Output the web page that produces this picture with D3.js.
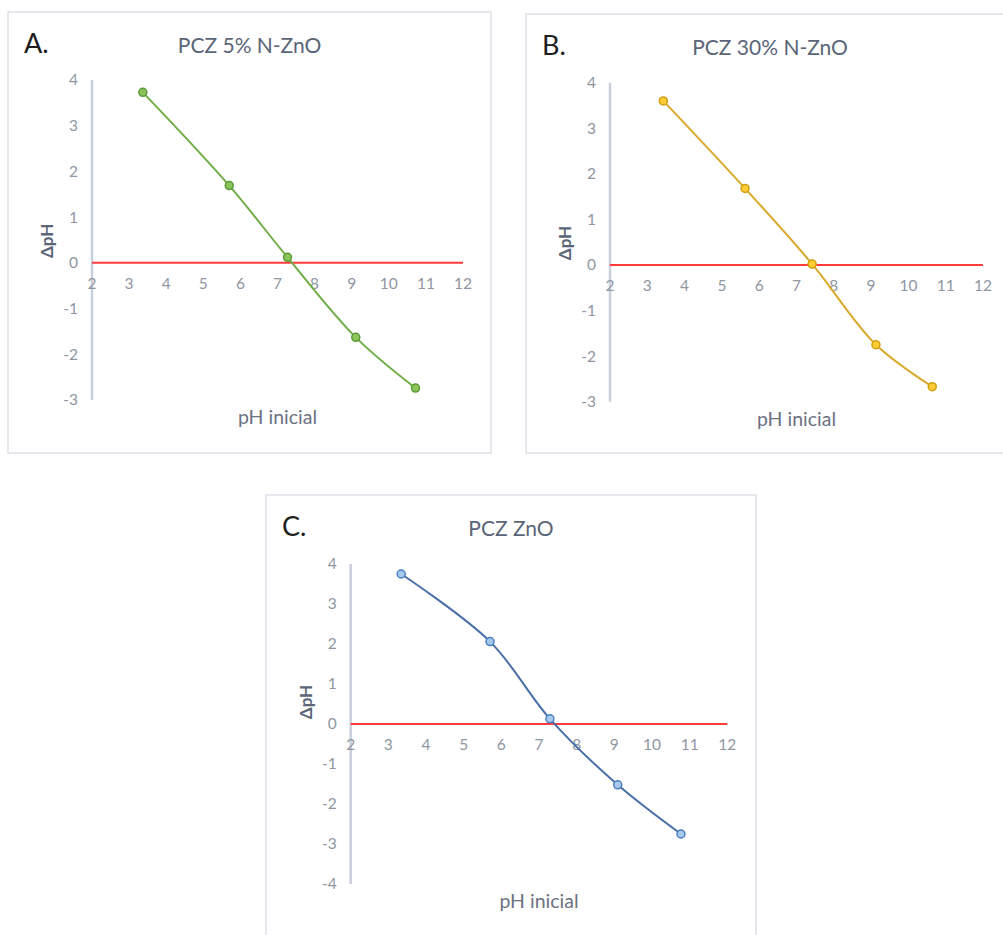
<!DOCTYPE html>
<html>
<head>
<meta charset="utf-8">
<script src="https://cdn.jsdelivr.net/npm/d3@7"></script>
<style>
  body { margin: 0; background: #fff; }
  svg { display: block; font-family: Lato, "Open Sans", sans-serif; }
</style>
</head>
<body>
<svg id="chart" width="1003" height="935"></svg>
<script>
// data
const ph_a = [3.37, 5.70, 7.27, 9.11, 10.72];
const dph_a = [3.73, 1.69, 0.12, -1.63, -2.74];

const ph_b = [3.43, 5.62, 7.42, 9.13, 10.64];
const dph_b = [3.60, 1.68, 0.02, -1.75, -2.67];

const ph_c = [3.34, 5.70, 7.29, 9.09, 10.77];
const dph_c = [3.75, 2.06, 0.13, -1.52, -2.75];

const x_ticks = [2, 3, 4, 5, 6, 7, 8, 9, 10, 11, 12];
const y_ticks_ab = [-3, -2, -1, 0, 1, 2, 3, 4];
const y_ticks_c = [-4, -3, -2, -1, 0, 1, 2, 3, 4];

const titles = ['PCZ 5% N-ZnO', 'PCZ 30% N-ZnO', 'PCZ ZnO'];
const letters = ['A.', 'B.', 'C.'];

// layout of each panel
const panels = [
  { letter: letters[0], title: titles[0], xs: ph_a, ys: dph_a, yt: y_ticks_ab,
    frame: [8, 12, 491, 453], xr: [92, 463], yr: [400, 80],
    line: '#70ad47', fill: '#8cc45a', edge: '#5b9a36' },
  { letter: letters[1], title: titles[1], xs: ph_b, ys: dph_b, yt: y_ticks_ab,
    frame: [526, 14, 1014, 453], xr: [610, 983], yr: [401.7, 82.7],
    line: '#d9a92a', fill: '#ffcc33', edge: '#cf9f10' },
  { letter: letters[2], title: titles[2], xs: ph_c, ys: dph_c, yt: y_ticks_c,
    frame: [266, 495, 756, 945], xr: [350.7, 727.3], yr: [884, 564],
    line: '#4a6fa8', fill: '#a8c8ec', edge: '#4a7fc0' }
];

const svg = d3.select('#chart');

panels.forEach(p => {
  const [fx1, fy1, fx2, fy2] = p.frame;
  const g = svg.append('g');

  const x = d3.scaleLinear().domain([2, 12]).range(p.xr);
  const y = d3.scaleLinear().domain(d3.extent(p.yt)).range(p.yr);

  g.append('rect')
    .attr('x', fx1).attr('y', fy1)
    .attr('width', fx2 - fx1).attr('height', fy2 - fy1)
    .attr('fill', '#fff')
    .attr('stroke', '#dde1e6')
    .attr('stroke-width', 1.5);

  g.append('text')
    .text(p.letter)
    .attr('x', fx1 + 16).attr('y', fy1 + 41)
    .attr('font-size', 27)
    .attr('fill', '#1e1e1e');

  g.append('text')
    .text(p.title)
    .attr('x', (fx1 + fx2) / 2).attr('y', fy1 + 41)
    .attr('text-anchor', 'middle')
    .attr('font-size', 21)
    .attr('fill', '#5b6578');

  // y axis line
  g.append('line')
    .attr('x1', x(2)).attr('x2', x(2))
    .attr('y1', y(d3.max(p.yt))).attr('y2', y(d3.min(p.yt)))
    .attr('stroke', '#c9cfdb')
    .attr('stroke-width', 2.5);

  g.selectAll('.ylab')
    .data(p.yt)
    .enter()
    .append('text')
    .text(d => d)
    .attr('x', x(2) - 14)
    .attr('y', d => y(d))
    .attr('dy', '0.35em')
    .attr('text-anchor', 'end')
    .attr('font-size', 15.5)
    .attr('fill', '#8f96a2');

  // zero line
  g.append('line')
    .attr('x1', x(2)).attr('x2', x(12))
    .attr('y1', y(0)).attr('y2', y(0))
    .attr('stroke', '#ff3b3b')
    .attr('stroke-width', 2);

  g.selectAll('.xlab')
    .data(x_ticks)
    .enter()
    .append('text')
    .text(d => d)
    .attr('x', d => x(d))
    .attr('y', y(0) + 21)
    .attr('dy', '0.35em')
    .attr('text-anchor', 'middle')
    .attr('font-size', 15.5)
    .attr('fill', '#8f96a2');

  g.append('text')
    .text('ΔpH')
    .attr('transform', `translate(${x(2) - 45},${y(0) - 22}) rotate(-90)`)
    .attr('text-anchor', 'middle')
    .attr('dy', '0.35em')
    .attr('font-size', 17)
    .attr('font-weight', 'bold')
    .attr('fill', '#5b6578');

  g.append('text')
    .text('pH inicial')
    .attr('x', x(7))
    .attr('y', y(d3.min(p.yt)) + 24)
    .attr('text-anchor', 'middle')
    .attr('font-size', 19.5)
    .attr('fill', '#6b7282');

  const pts = p.xs.map((v, i) => [v, p.ys[i]]);

  const line = d3.line()
    .x(d => x(d[0]))
    .y(d => y(d[1]))
    .curve(d3.curveCatmullRom.alpha(0.5));

  g.append('path')
    .datum(pts)
    .attr('d', line)
    .attr('fill', 'none')
    .attr('stroke', p.line)
    .attr('stroke-width', 2);

  g.selectAll('circle')
    .data(pts)
    .enter()
    .append('circle')
    .attr('cx', d => x(d[0]))
    .attr('cy', d => y(d[1]))
    .attr('r', 4)
    .attr('fill', p.fill)
    .attr('stroke', p.edge)
    .attr('stroke-width', 1.5);
});
</script>
</body>
</html>
